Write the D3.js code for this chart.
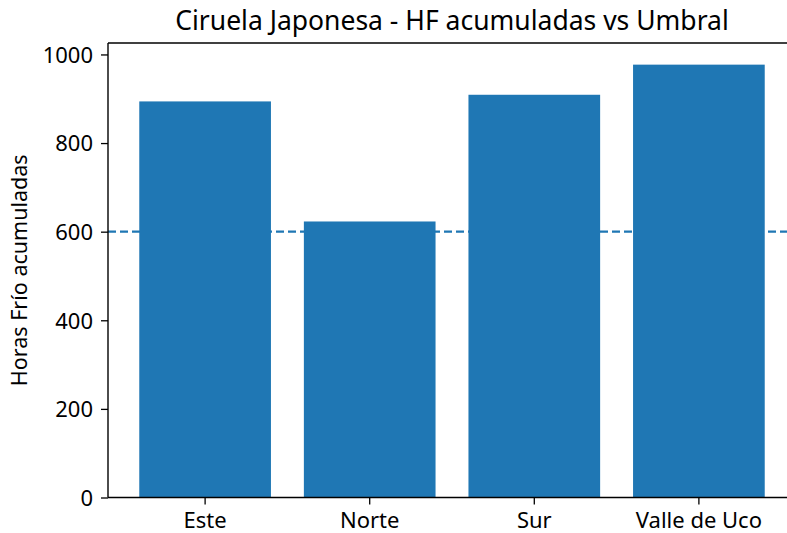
<!DOCTYPE html>
<html>
<head>
<meta charset="utf-8">
<script src="https://cdn.jsdelivr.net/npm/d3@7"></script>
<style>
  body { margin: 0; background: #fff; }
  svg { font-family: "Noto Sans", sans-serif; }
</style>
</head>
<body>
<div id="chart"></div>
<script>
var zonas = ["Este", "Norte", "Sur", "Valle de Uco"];
var horasFrio = [894, 623, 909, 977];
var umbral = 600;
var yTicks = [0, 200, 400, 600, 800, 1000];
var titulo = "Ciruela Japonesa - HF acumuladas vs Umbral";
var yLabel = "Horas Frío acumuladas";

var W = 787, H = 533;
var margin = {top: 43, left: 108, bottom: 497.5, right: 796};

var svg = d3.select("#chart").append("svg")
    .attr("width", W).attr("height", H);

var x = d3.scaleBand()
    .domain(zonas)
    .range([margin.left, margin.right])
    .paddingInner(0.2)
    .paddingOuter(0.19);

var y = d3.scaleLinear()
    .domain([0, d3.max(horasFrio) * 1.05])
    .range([margin.bottom, margin.top]);

// linea de umbral (detras de las barras)
svg.append("line")
    .attr("x1", margin.left).attr("x2", margin.right)
    .attr("y1", y(umbral)).attr("y2", y(umbral))
    .attr("stroke", "#1f77b4")
    .attr("stroke-width", 2.2)
    .attr("stroke-dasharray", "8,4");

svg.selectAll("rect.bar")
    .data(zonas)
    .enter().append("rect")
    .attr("class", "bar")
    .attr("x", d => x(d))
    .attr("width", x.bandwidth())
    .attr("y", (d, i) => y(horasFrio[i]))
    .attr("height", (d, i) => y(0) - y(horasFrio[i]))
    .attr("fill", "#1f77b4");

var yAxis = svg.append("g")
    .attr("transform", "translate(" + margin.left + ",0)")
    .call(d3.axisLeft(y).tickValues(yTicks).tickFormat(d3.format("d"))
        .tickSize(7).tickPadding(8));

var xAxis = svg.append("g")
    .attr("transform", "translate(0," + margin.bottom + ")")
    .call(d3.axisBottom(x).tickSize(7).tickPadding(8));

[xAxis, yAxis].forEach(function (g) {
    g.select(".domain").remove();
    g.selectAll("line").attr("stroke", "#000").attr("stroke-width", 1.3);
    g.selectAll("text").attr("fill", "#000").style("font-size", "22px")
        .style("font-family", "Noto Sans, sans-serif");
});
yAxis.selectAll("text").attr("dy", "0.36em");

// spines
svg.append("line").attr("x1", margin.left).attr("x2", margin.left)
    .attr("y1", margin.top).attr("y2", margin.bottom)
    .attr("stroke", "#000").attr("stroke-width", 1.4);
svg.append("line").attr("x1", margin.left).attr("x2", margin.right)
    .attr("y1", margin.bottom).attr("y2", margin.bottom)
    .attr("stroke", "#000").attr("stroke-width", 1.4);
svg.append("line").attr("x1", margin.left).attr("x2", margin.right)
    .attr("y1", margin.top).attr("y2", margin.top)
    .attr("stroke", "#000").attr("stroke-width", 1.4);

svg.append("text")
    .attr("x", (margin.left + margin.right) / 2)
    .attr("y", 30)
    .attr("text-anchor", "middle")
    .style("font-size", "26.5px")
    .text(titulo);

svg.append("text")
    .attr("transform", "translate(27," + (margin.top + margin.bottom) / 2 + ") rotate(-90)")
    .attr("text-anchor", "middle")
    .style("font-size", "21.5px")
    .text(yLabel);
</script>
</body>
</html>
